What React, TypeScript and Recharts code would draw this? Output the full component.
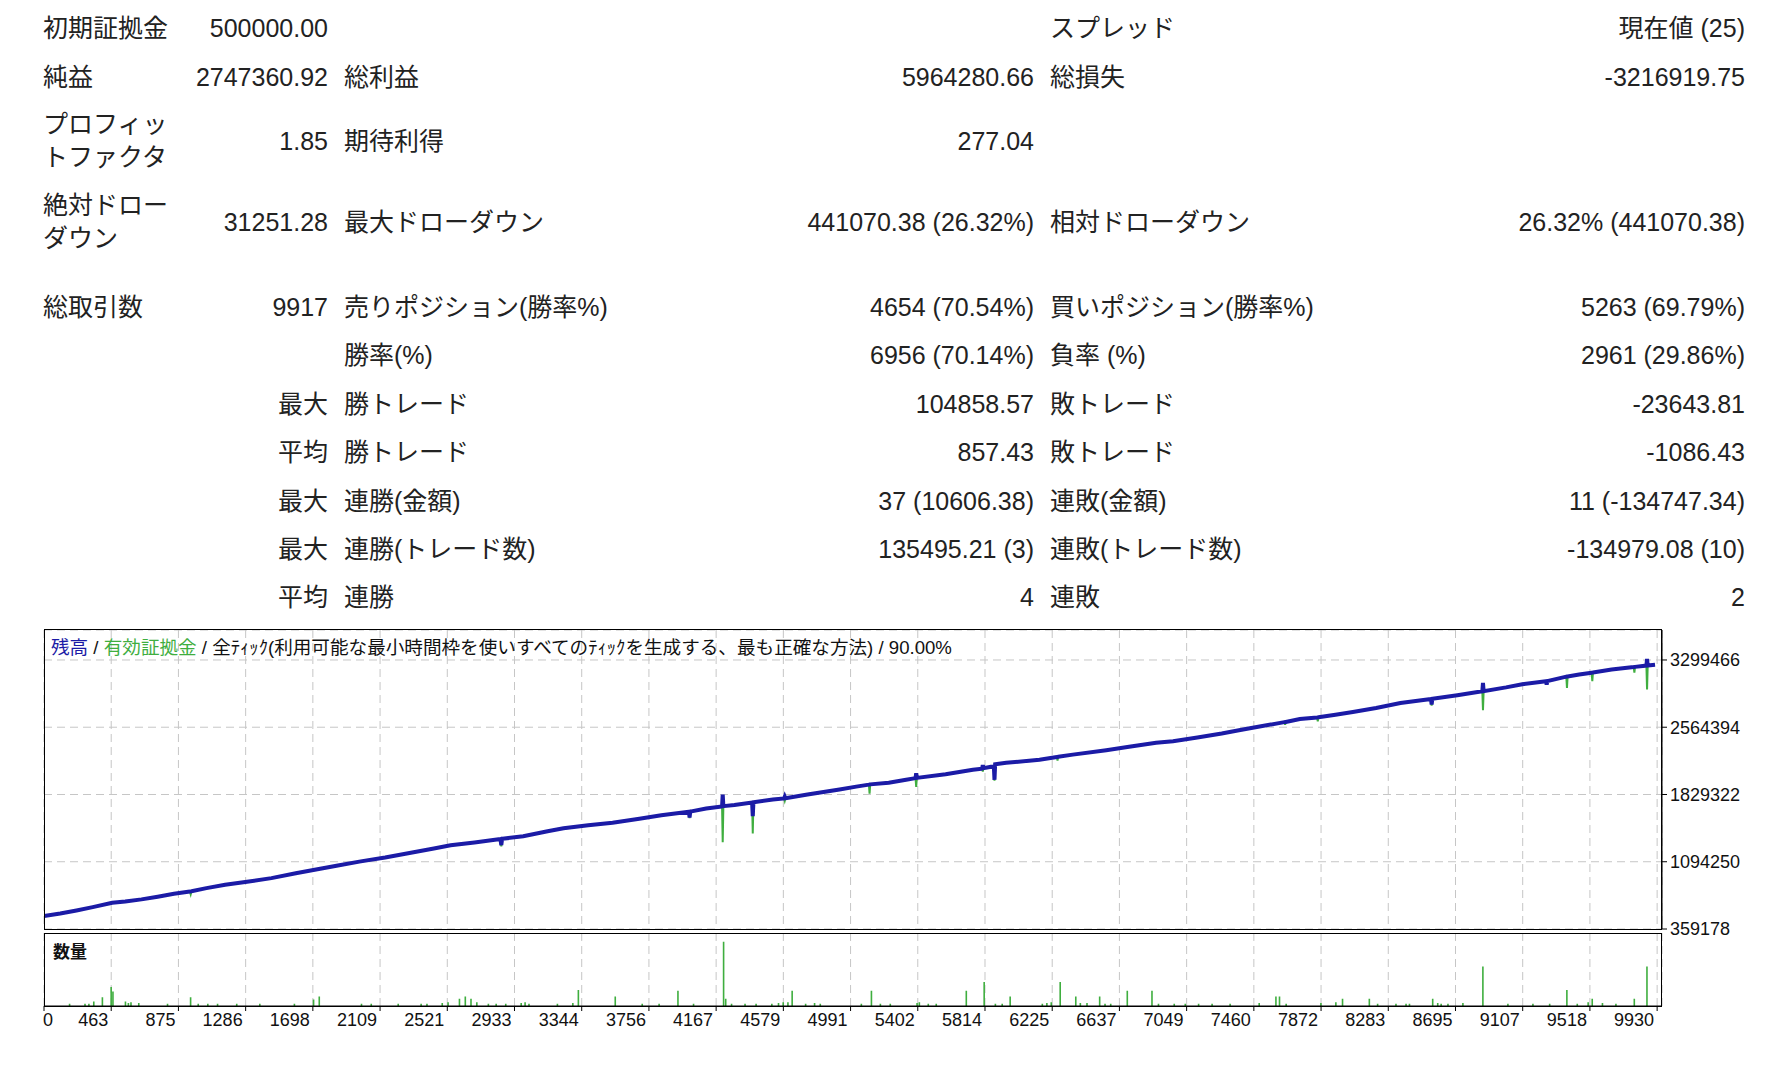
import React from 'react';
import {
  ComposedChart,
  BarChart,
  Bar,
  Line,
  XAxis,
  YAxis,
  CartesianGrid
} from 'recharts';

const FONT = "'Liberation Sans', 'Noto Sans CJK JP', sans-serif";
const BLUE = '#1b1ba6';
const GREEN = '#3fae3f';
const GRID = '#c6c6c6';

// x axis labels as printed by the tester (evenly spaced gridlines)
const xTickLabels = [
  '0', '463', '875', '1286', '1698', '2109', '2521', '2933', '3344', '3756', '4167', '4579',
  '4991', '5402', '5814', '6225', '6637', '7049', '7460', '7872', '8283', '8695', '9107', '9518', '9930'
];
const X_STEP = 9930 / 24;
const X_MAX = 9960;
const xTicks = xTickLabels.map((_, i) => i * X_STEP);

const yTicks = [359178, 1094250, 1829322, 2564394, 3299466];
const Y_MIN = 359178;
const Y_MAX = 3627000;

// [trade #, balance, equity]
const curveRows: [number, number, number][] = [
  [0, 500000, 500000],
  [100, 528000, 528000],
  [200, 561000, 561000],
  [300, 598000, 598000],
  [420, 646700, 646700],
  [500, 660000, 660000],
  [600, 683000, 683000],
  [700, 712000, 712000],
  [800, 745000, 745000],
  [898, 768000, 768000],
  [903, 770000, 738000],
  [908, 771000, 771000],
  [1000, 806000, 806000],
  [1115, 843400, 843400],
  [1250, 875000, 875000],
  [1400, 915000, 915000],
  [1550, 968000, 968000],
  [1700, 1018000, 1018000],
  [1809, 1053000, 1053000],
  [1950, 1098000, 1098000],
  [2100, 1140000, 1140000],
  [2250, 1190000, 1190000],
  [2400, 1238000, 1238000],
  [2503, 1275000, 1275000],
  [2650, 1305000, 1305000],
  [2810, 1342000, 1342000],
  [2815, 1276000, 1262000],
  [2820, 1345000, 1345000],
  [2950, 1372000, 1372000],
  [3100, 1428000, 1428000],
  [3198, 1460000, 1460000],
  [3350, 1492000, 1492000],
  [3500, 1520000, 1520000],
  [3665, 1563000, 1563000],
  [3800, 1603000, 1603000],
  [3970, 1640000, 1640000],
  [3974, 1578000, 1570000],
  [3978, 1642000, 1642000],
  [4076, 1676000, 1676000],
  [4174, 1699000, 1699000],
  [4178, 1829000, 1308000],
  [4182, 1702000, 1702000],
  [4250, 1714000, 1714000],
  [4359, 1741000, 1741000],
  [4363, 1592000, 1403000],
  [4367, 1744000, 1744000],
  [4487, 1774000, 1774000],
  [4556, 1786000, 1786000],
  [4560, 1805000, 1760000],
  [4564, 1788000, 1788000],
  [4700, 1830000, 1830000],
  [4897, 1884000, 1884000],
  [5000, 1915000, 1915000],
  [5078, 1937000, 1937000],
  [5082, 1938600, 1837000],
  [5086, 1940000, 1940000],
  [5200, 1958000, 1958000],
  [5307, 1990000, 1990000],
  [5365, 2008000, 2008000],
  [5369, 2060000, 1913000],
  [5373, 2011000, 2011000],
  [5550, 2050000, 2050000],
  [5718, 2100000, 2100000],
  [5775, 2112000, 2112000],
  [5779, 2150000, 2080000],
  [5783, 2116000, 2116000],
  [5847, 2138000, 2138000],
  [5851, 1990000, 1980000],
  [5855, 2160000, 2160000],
  [5923, 2175000, 2175000],
  [6128, 2210000, 2210000],
  [6235, 2238000, 2238000],
  [6239, 2240000, 2200000],
  [6243, 2241000, 2241000],
  [6333, 2265000, 2265000],
  [6539, 2313000, 2313000],
  [6669, 2347400, 2347400],
  [6846, 2394000, 2394000],
  [6950, 2412000, 2412000],
  [7100, 2452000, 2452000],
  [7250, 2495000, 2495000],
  [7364, 2535000, 2535000],
  [7500, 2578000, 2578000],
  [7636, 2620000, 2620000],
  [7640, 2621000, 2590000],
  [7644, 2622000, 2622000],
  [7731, 2655000, 2655000],
  [7837, 2671000, 2671000],
  [7841, 2672000, 2630000],
  [7845, 2673000, 2673000],
  [7950, 2700000, 2700000],
  [8057, 2730000, 2730000],
  [8200, 2775000, 2775000],
  [8350, 2830000, 2830000],
  [8538, 2874000, 2874000],
  [8542, 2813000, 2800000],
  [8546, 2876000, 2876000],
  [8700, 2915000, 2915000],
  [8854, 2957000, 2957000],
  [8858, 3050000, 2750000],
  [8862, 2959000, 2959000],
  [9000, 3000000, 3000000],
  [9100, 3035000, 3035000],
  [9246, 3067000, 3067000],
  [9250, 3031000, 3031000],
  [9254, 3069000, 3069000],
  [9371, 3117000, 3117000],
  [9375, 3118000, 2995000],
  [9379, 3119000, 3119000],
  [9450, 3140000, 3140000],
  [9527, 3160000, 3160000],
  [9531, 3161000, 3068000],
  [9535, 3162000, 3162000],
  [9650, 3195000, 3195000],
  [9786, 3222000, 3222000],
  [9790, 3223000, 3160000],
  [9794, 3224000, 3224000],
  [9864, 3238000, 3238000],
  [9868, 3312000, 2977000],
  [9872, 3239000, 3239000],
  [9917, 3247360, 3247360]
];

// [trade #, volume (relative to panel height, 0-100)]
const volumeRows: [number, number][] = [
  [158, 3], [253, 3], [277, 3], [307, 6], [360, 12], [414, 26], [425, 20], [502, 6], [520, 4],
  [536, 5], [584, 4], [761, 3], [903, 12], [950, 3], [1009, 3], [1069, 3], [1187, 3], [1329, 3],
  [1542, 3], [1660, 9], [1695, 13], [1955, 3], [2015, 3], [2181, 3], [2322, 3], [2358, 3],
  [2452, 4], [2488, 5], [2558, 10], [2594, 13], [2629, 10], [2665, 5], [2736, 3], [2784, 3],
  [2843, 3], [2938, 4], [2962, 5], [2986, 3], [3161, 3], [3256, 4], [3290, 22], [3517, 13],
  [3683, 3], [3787, 3], [3903, 21], [3999, 3], [4184, 88], [4197, 10], [4233, 3], [4316, 3],
  [4384, 3], [4481, 3], [4522, 4], [4551, 5], [4580, 5], [4606, 21], [4689, 3], [4744, 4],
  [4779, 3], [5032, 3], [5094, 21], [5149, 3], [5210, 3], [5375, 4], [5389, 5], [5444, 3],
  [5493, 3], [5678, 21], [5788, 33], [5857, 3], [5899, 3], [5948, 13], [6146, 3], [6174, 4],
  [6201, 5], [6256, 33], [6352, 13], [6380, 4], [6421, 4], [6499, 13], [6532, 3], [6567, 3],
  [6669, 21], [6821, 21], [6861, 3], [6958, 3], [7026, 3], [7108, 3], [7191, 3], [7302, 3],
  [7481, 4], [7584, 13], [7606, 13], [7647, 3], [7861, 4], [7953, 5], [7994, 10], [8159, 10],
  [8210, 3], [8323, 3], [8385, 3], [8406, 3], [8549, 10], [8580, 4], [8601, 3], [8643, 3],
  [8735, 4], [8858, 54], [9012, 3], [9166, 3], [9269, 3], [9375, 22], [9439, 3], [9506, 5],
  [9531, 10], [9594, 4], [9677, 3], [9790, 10], [9868, 54]
];

interface StatRow {
  y: number;
  l1: string;
  v1: string;
  l2: string;
  v2: string;
  l3: string;
  v3: string;
}

const statRows: StatRow[] = [
  { y: 28, l1: '初期証拠金', v1: '500000.00', l2: '', v2: '', l3: 'スプレッド', v3: '現在値 (25)' },
  { y: 77, l1: '純益', v1: '2747360.92', l2: '総利益', v2: '5964280.66', l3: '総損失', v3: '-3216919.75' },
  { y: 141, l1: 'プロフィッ\nトファクタ', v1: '1.85', l2: '期待利得', v2: '277.04', l3: '', v3: '' },
  { y: 222, l1: '絶対ドロー\nダウン', v1: '31251.28', l2: '最大ドローダウン', v2: '441070.38 (26.32%)', l3: '相対ドローダウン', v3: '26.32% (441070.38)' },
  { y: 307, l1: '総取引数', v1: '9917', l2: '売りポジション(勝率%)', v2: '4654 (70.54%)', l3: '買いポジション(勝率%)', v3: '5263 (69.79%)' },
  { y: 355, l1: '', v1: '', l2: '勝率(%)', v2: '6956 (70.14%)', l3: '負率 (%)', v3: '2961 (29.86%)' },
  { y: 404, l1: '', v1: '最大', l2: '勝トレード', v2: '104858.57', l3: '敗トレード', v3: '-23643.81' },
  { y: 452, l1: '', v1: '平均', l2: '勝トレード', v2: '857.43', l3: '敗トレード', v3: '-1086.43' },
  { y: 501, l1: '', v1: '最大', l2: '連勝(金額)', v2: '37 (10606.38)', l3: '連敗(金額)', v3: '11 (-134747.34)' },
  { y: 549, l1: '', v1: '最大', l2: '連勝(トレード数)', v2: '135495.21 (3)', l3: '連敗(トレード数)', v3: '-134979.08 (10)' },
  { y: 597, l1: '', v1: '平均', l2: '連勝', v2: '4', l3: '連敗', v3: '2' }
];

const LINE_H = 33;

function Cell({ text, y, left, right }: { text: string; y: number; left?: number; right?: number }) {
  if (!text) return null;
  const lines = text.split('\n');
  const style: React.CSSProperties = {
    position: 'absolute',
    top: y - (LINE_H * lines.length) / 2,
    lineHeight: `${LINE_H}px`,
    fontSize: 25,
    color: '#222',
    whiteSpace: 'pre',
    fontFamily: FONT
  };
  if (left !== undefined) style.left = left;
  if (right !== undefined) {
    style.right = 1768 - right;
    style.textAlign = 'right';
  }
  return <div style={style}>{text}</div>;
}

function XTick(props: any) {
  const { x, y, payload } = props;
  const i = Math.round(payload.value / X_STEP);
  const first = i === 0;
  return (
    <text
      x={first ? x - 1 : x - 3}
      y={y}
      dy="0.71em"
      textAnchor={first ? 'start' : 'end'}
      fontSize={18}
      fill="#111"
      fontFamily={FONT}
    >
      {xTickLabels[i]}
    </text>
  );
}

export default function App() {
  const curveData = curveRows.map(([t, bal, eq]) => ({ t, bal, eq }));
  const volData = volumeRows.map(([t, lots]) => ({ t, lots }));

  return (
    <div style={{ position: 'absolute', left: 0, top: 0, width: 1768, height: 1068, background: '#fff', fontFamily: FONT }}>
      {statRows.map((r, k) => (
        <React.Fragment key={k}>
          <Cell text={r.l1} y={r.y} left={43} />
          <Cell text={r.v1} y={r.y} right={328} />
          <Cell text={r.l2} y={r.y} left={344} />
          <Cell text={r.v2} y={r.y} right={1034} />
          <Cell text={r.l3} y={r.y} left={1050} />
          <Cell text={r.v3} y={r.y} right={1745} />
        </React.Fragment>
      ))}

      {/* balance / equity panel */}
      <div style={{ position: 'absolute', left: 0, top: 620 }}>
        <ComposedChart width={1768} height={320} data={curveData} margin={{ top: 10, right: 0, bottom: 11, left: 44 }}>
          <CartesianGrid stroke={GRID} strokeDasharray="8 5" />
          <XAxis type="number" dataKey="t" domain={[0, X_MAX]} ticks={xTicks} hide allowDataOverflow />
          <YAxis
            orientation="right"
            width={106}
            domain={[Y_MIN, Y_MAX]}
            ticks={yTicks}
            interval={0}
            allowDataOverflow
            tickSize={5}
            tickMargin={3}
            axisLine={{ stroke: '#000' }}
            tickLine={{ stroke: '#000' }}
            tick={{ fontSize: 18, fill: '#111', fontFamily: FONT }}
          />
          <Line type="linear" dataKey="eq" stroke={GREEN} strokeWidth={2} dot={false} isAnimationActive={false} />
          <Line type="linear" dataKey="bal" stroke={BLUE} strokeWidth={4} dot={false} isAnimationActive={false} />
        </ComposedChart>
      </div>
      <div style={{ position: 'absolute', left: 44, top: 629, width: 1618, height: 301, border: '1px solid #000', boxSizing: 'border-box', pointerEvents: 'none' }} />
      <div style={{ position: 'absolute', left: 51, top: 638, fontSize: 18.6, lineHeight: '20px', whiteSpace: 'nowrap', color: '#111' }}>
        <span style={{ color: BLUE }}>残高</span>
        {' / '}
        <span style={{ color: GREEN }}>有効証拠金</span>
        {' / 全ﾃｨｯｸ(利用可能な最小時間枠を使いすべてのﾃｨｯｸを生成する、最も正確な方法) / 90.00%'}
      </div>

      {/* volume panel */}
      <div style={{ position: 'absolute', left: 0, top: 925 }}>
        <BarChart width={1768} height={111} data={volData} margin={{ top: 8, right: 106, bottom: 0, left: 44 }}>
          <CartesianGrid stroke={GRID} strokeDasharray="8 5" horizontal={false} />
          <XAxis
            type="number"
            dataKey="t"
            domain={[0, X_MAX]}
            ticks={xTicks}
            interval={0}
            allowDataOverflow
            height={30}
            tickSize={5}
            tickMargin={2}
            axisLine={{ stroke: '#000' }}
            tickLine={{ stroke: '#000' }}
            tick={<XTick />}
          />
          <YAxis hide domain={[0, 100]} />
          <Bar dataKey="lots" fill={GREEN} barSize={2} isAnimationActive={false} />
        </BarChart>
      </div>
      <div style={{ position: 'absolute', left: 44, top: 933, width: 1618, height: 74, border: '1px solid #000', boxSizing: 'border-box', pointerEvents: 'none' }} />
      <div style={{ position: 'absolute', left: 53, top: 943, fontSize: 17, fontWeight: 700, lineHeight: '20px', color: '#111' }}>数量</div>
    </div>
  );
}
